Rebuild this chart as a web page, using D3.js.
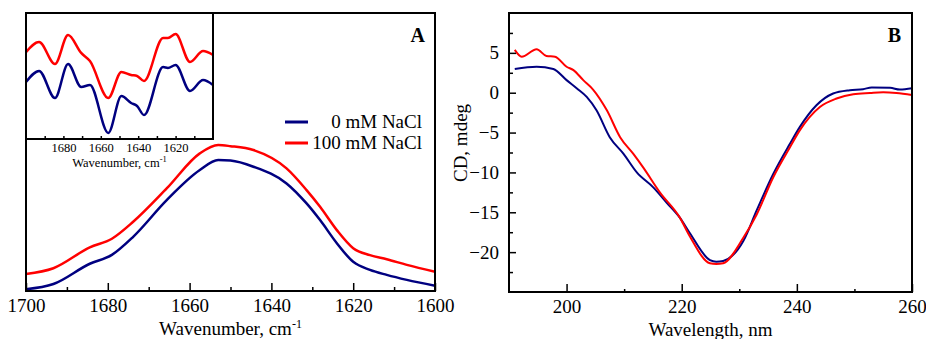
<!DOCTYPE html>
<html>
<head>
<meta charset="utf-8">
<script src="https://cdn.jsdelivr.net/npm/d3@7"></script>
<style>
  body { margin: 0; background: #fff; }
  svg { display: block; }
</style>
</head>
<body>
<svg id="chart" width="926" height="339"></svg>
<script>
const FONT = "'Liberation Serif', 'Times New Roman', Times, serif";

// series names / colours
const seriesNames = ["0 mM NaCl", "100 mM NaCl"];
const seriesColors = ["#000080", "#ff0000"];

// panel A, FTIR amide I band (absorbance, a.u.)
const ftirWn = [1700, 1693.3, 1684.4, 1679, 1673.8, 1665.6, 1657.5, 1653, 1650, 1644.4, 1636.3, 1631.4, 1628.1, 1624, 1620, 1615.9, 1611.8, 1606.9, 1600];
const ftir0 = [0.006, 0.025, 0.098, 0.130, 0.195, 0.327, 0.435, 0.471, 0.469, 0.447, 0.387, 0.315, 0.255, 0.172, 0.105, 0.076, 0.058, 0.040, 0.019];
const ftir100 = [0.061, 0.082, 0.157, 0.188, 0.249, 0.369, 0.495, 0.525, 0.521, 0.507, 0.441, 0.363, 0.303, 0.219, 0.154, 0.129, 0.114, 0.094, 0.069];

// inset, second derivative (a.u.)
const derivWn = [1700, 1693, 1684.5, 1677.5, 1670.5, 1665.8, 1656, 1649, 1643.8, 1640.6, 1636.9, 1626.7, 1624.1, 1620, 1612.3, 1605.3, 1600];
const deriv0 = [4.52, 5.40, 3.25, 5.95, 4.13, 4.29, 0.48, 3.41, 2.86, 2.62, 1.90, 5.71, 5.64, 5.87, 3.81, 4.68, 4.29];
const deriv100 = [6.90, 7.70, 5.95, 8.25, 6.83, 6.19, 3.25, 5.32, 5.08, 5.00, 4.60, 8.02, 8.02, 8.33, 6.11, 6.98, 6.67];

// panel B, CD spectra (mdeg)
const cdWl0 = [191.0, 194.8, 197.7, 200.0, 201.8, 203.5, 205.2, 207.5, 209.9, 212.2, 215.1, 217.4, 219.7, 221.4, 224.9, 226.0, 227.2, 230.7, 233.0, 235.9, 238.8, 240.5, 243.4, 246.3, 249.2, 251.5, 253.0, 256.2, 257.9, 260];
const cd0 = [2.97, 3.26, 2.97, 1.58, 0.53, -0.53, -2.21, -5.58, -7.68, -10.0, -11.9, -13.8, -15.7, -17.6, -21.0, -21.2, -21.1, -18.6, -14.8, -10.2, -6.41, -4.32, -1.58, -0.10, 0.32, 0.44, 0.66, 0.61, 0.40, 0.57];
const cdWl100 = [191.0, 192.2, 194.8, 196.5, 198.0, 200.0, 201.2, 202.9, 204.6, 207.0, 209.3, 211.6, 213.3, 216.2, 219.7, 221.4, 224.9, 226.0, 227.2, 230.7, 233.0, 235.9, 238.8, 240.5, 244.0, 246.9, 249.8, 252.7, 255.0, 257.3, 260];
const cd100 = [5.37, 4.52, 5.45, 4.61, 4.52, 3.26, 2.84, 1.58, 0.40, -2.21, -5.58, -7.68, -9.37, -12.5, -15.7, -18.0, -21.4, -21.5, -21.4, -18.2, -15.3, -10.6, -6.84, -4.73, -1.79, -0.73, -0.19, -0.03, 0.06, -0.03, -0.28];

// tick values
const ftirTicks = [1700, 1680, 1660, 1640, 1620, 1600];
const ftirMinor = [1690, 1670, 1650, 1630, 1610];
const insetTicks = [1680, 1660, 1640, 1620];
const insetMinor = [1690, 1670, 1650, 1630, 1610];
const cdXTicks = [200, 220, 240, 260];
const cdXMinor = [210, 230, 250];
const cdYTicks = [5, 0, -5, -10, -15, -20];
const cdYMinor = [7.5, 2.5, -2.5, -7.5, -12.5, -17.5, -22.5];

const svg = d3.select("#chart").attr("font-family", FONT);

function zip(xs, ys) { return xs.map((x, i) => [x, ys[i]]); }

function drawLines(g, x, y, series, width) {
  const line = d3.line()
    .x(d => x(d[0]))
    .y(d => y(d[1]))
    .curve(d3.curveMonotoneX);
  g.append("g")
    .attr("fill", "none")
    .attr("stroke-width", width)
    .attr("stroke-linejoin", "round")
    .selectAll("path")
    .data(series)
    .join("path")
    .attr("stroke", (d, i) => seriesColors[i])
    .attr("d", d => line(d));
}

function styleAxis(ax, fs) {
  ax.attr("font-family", FONT).attr("font-size", fs);
  ax.select(".domain").remove();
  ax.selectAll("text").attr("fill", "#000").attr("font-family", FONT).attr("font-size", fs);
  ax.selectAll("line").attr("stroke-width", 1.5);
  return ax;
}

function minorTicks(g, axis, tr) {
  const mn = g.append("g")
    .attr("transform", tr)
    .call(axis.tickSizeOuter(0).tickFormat(""));
  mn.select(".domain").remove();
  mn.selectAll("text").remove();
  mn.selectAll("line").attr("stroke-width", 1.5);
}

function bottomTicks(g, x, y0, major, minor, len, minorLen, fs, pad) {
  const ax = g.append("g")
    .attr("transform", `translate(0,${y0})`)
    .call(d3.axisBottom(x).tickValues(major).tickSizeInner(-len).tickSizeOuter(0)
      .tickPadding(pad).tickFormat(d3.format("d")));
  styleAxis(ax, fs);
  minorTicks(g, d3.axisBottom(x).tickValues(minor).tickSizeInner(-minorLen), `translate(0,${y0})`);
}

function frame(g, x0, y0, x1, y1) {
  g.append("rect")
    .attr("x", x0).attr("y", y0)
    .attr("width", x1 - x0).attr("height", y1 - y0)
    .attr("fill", "none").attr("stroke", "#000").attr("stroke-width", 2);
}

function label(g, x, y, size, text) {
  return g.append("text")
    .attr("x", x).attr("y", y)
    .attr("font-family", FONT).attr("font-size", size)
    .text(text);
}

// ---------- panel A ----------
const A = { left: 26, top: 13, right: 435, bottom: 291 };
const xA = d3.scaleLinear().domain([1700, 1600]).range([A.left, A.right]);
const yA = d3.scaleLinear().domain([0, 1]).range([A.bottom, A.top]);

const gA = svg.append("g");
drawLines(gA, xA, yA, [zip(ftirWn, ftir0), zip(ftirWn, ftir100)], 2.5);
bottomTicks(gA, xA, A.bottom, ftirTicks, ftirMinor, 8, 4, 19, 8);
frame(gA, A.left, A.top, A.right, A.bottom);

label(gA, (A.left + A.right) / 2, 335, 19, "Wavenumber, cm")
  .attr("text-anchor", "middle")
  .append("tspan").attr("dy", -7).attr("font-size", 12).text("-1");

label(gA, 425, 42, 20, "A")
  .attr("text-anchor", "end").attr("font-weight", "bold");

// legend
const legend = gA.append("g");
seriesNames.forEach((name, i) => {
  const ly = 122 + i * 21;
  legend.append("line")
    .attr("x1", 285).attr("x2", 308).attr("y1", ly).attr("y2", ly)
    .attr("stroke", seriesColors[i]).attr("stroke-width", 3);
  label(legend, 422, ly + 6, 19, name).attr("text-anchor", "end");
});

// inset
const I = { left: 26, top: 13, right: 213, bottom: 139 };
const xI = d3.scaleLinear().domain([1700, 1600]).range([I.left, I.right]);
const yI = d3.scaleLinear().domain([0, 10]).range([I.bottom, I.top]);
const gI = svg.append("g");
drawLines(gI, xI, yI, [zip(derivWn, deriv0), zip(derivWn, deriv100)], 2.5);
const axI = gI.append("g")
  .attr("transform", `translate(0,${I.bottom})`)
  .call(d3.axisBottom(xI).tickValues(insetTicks).tickSizeInner(-3).tickSizeOuter(0)
    .tickPadding(4).tickFormat(d3.format("d")));
styleAxis(axI, 12.5);
minorTicks(gI, d3.axisBottom(xI).tickValues(insetMinor).tickSizeInner(-3), `translate(0,${I.bottom})`);
frame(gI, I.left, I.top, I.right, I.bottom);
label(gI, (I.left + I.right) / 2, 167, 12.5, "Wavenumber, cm")
  .attr("text-anchor", "middle")
  .append("tspan").attr("dy", -5).attr("font-size", 8.5).text("-1");

// ---------- panel B ----------
const B = { left: 509, top: 13, right: 912, bottom: 292 };
const xB = d3.scaleLinear().domain([190, 260]).range([B.left, B.right]);
const yB = d3.scaleLinear().domain([-25, 10]).range([B.bottom, B.top]);

const gB = svg.append("g");
drawLines(gB, xB, yB, [zip(cdWl0, cd0), zip(cdWl100, cd100)], 2);
bottomTicks(gB, xB, B.bottom, cdXTicks, cdXMinor, 8, 3, 19, 8);

const ay = gB.append("g")
  .attr("transform", `translate(${B.left},0)`)
  .call(d3.axisLeft(yB).tickValues(cdYTicks).tickSizeInner(-7).tickSizeOuter(0).tickPadding(10));
styleAxis(ay, 19);
minorTicks(gB, d3.axisLeft(yB).tickValues(cdYMinor).tickSizeInner(-4), `translate(${B.left},0)`);

frame(gB, B.left, B.top, B.right, B.bottom);

label(gB, (B.left + B.right) / 2, 336, 19, "Wavelength, nm")
  .attr("text-anchor", "middle");

label(gB, 0, 0, 19, "CD, mdeg")
  .attr("transform", `translate(467,143) rotate(-90)`)
  .attr("text-anchor", "middle");

label(gB, 901, 42, 20, "B")
  .attr("text-anchor", "end").attr("font-weight", "bold");
</script>
</body>
</html>
